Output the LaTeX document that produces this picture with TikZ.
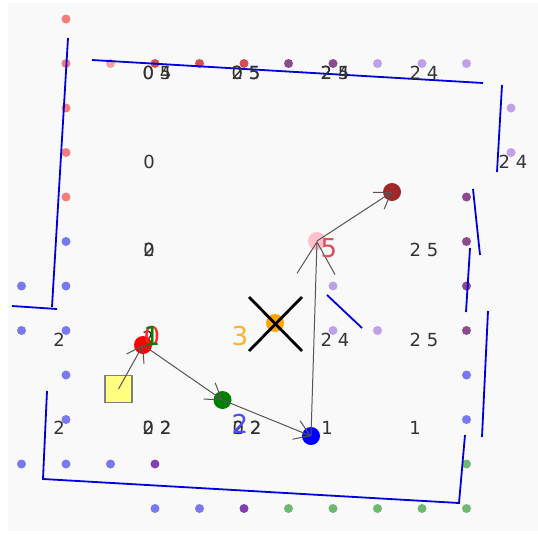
\documentclass[tikz,border=0pt]{standalone}
\usepackage{fontspec}
\setmainfont{DejaVu Sans}
\usetikzlibrary{arrows.meta}
\definecolor{bgc}{HTML}{F9F9F9}
\definecolor{dred}{HTML}{F47C7C}
\definecolor{dpink}{HTML}{F4A4A4}
\definecolor{dmaroon}{HTML}{D45050}
\definecolor{dpurp}{HTML}{8E4A8E}
\definecolor{dlilac}{HTML}{C0A0E6}
\definecolor{dblue}{HTML}{7878F0}
\definecolor{dviol}{HTML}{8040B0}
\definecolor{dgreen}{HTML}{70B870}
\definecolor{wallc}{HTML}{0000DD}
\definecolor{arrc}{HTML}{555555}
\definecolor{agpink}{HTML}{FFC0CB}
\definecolor{agbrown}{HTML}{A02828}
\definecolor{agorange}{HTML}{FFA500}
\definecolor{agfive}{HTML}{D9505A}
\definecolor{sqfill}{HTML}{FFFF80}
\begin{document}
\begin{tikzpicture}[x=1pt,y=-1pt,
  wall/.style={draw=wallc,line width=1.8pt},
  agent/.style={circle,minimum size=18pt,inner sep=0pt,draw=none},
  conn/.style={draw=arrc,line width=1pt,-{Straight Barb[length=15pt,width=20pt]}},
  bigconn/.style={draw=arrc,line width=1pt,-{Straight Barb[length=32pt,width=38pt]}},
  lab/.style={inner sep=0pt,text=black!80,font=\fontsize{18}{20}\selectfont},
  biglab/.style={inner sep=0pt,font=\fontsize{26}{28}\selectfont},
  xmark/.style={draw=black,line width=2.8pt}]
\useasboundingbox (0,0) rectangle (538,533);
\fill[white] (0,0) rectangle (538,533);
\fill[bgc] (8,3) rectangle (538,531);
% dots
\foreach \x/\y/\c in {
 66/19/dred, 66/63.5/dred, 66/108/dred, 66/152.5/dred, 66/197/dred,
 110.5/63.5/dpink, 155/63.5/dmaroon, 199.5/63.5/dmaroon, 244/63.5/dmaroon,
 288.5/63.5/dpurp, 333/63.5/dpurp, 377.5/63.5/dlilac, 422/63.5/dlilac, 466.5/63.5/dlilac,
 511/108/dlilac, 511/152.5/dlilac,
 466.5/197/dpurp, 466.5/241.5/dpurp, 466.5/286/dpurp, 466.5/330.5/dpurp,
 466.5/375/dblue, 466.5/419.5/dblue, 466.5/464/dgreen, 466.5/508.5/dgreen,
 288.5/508.5/dgreen, 333/508.5/dgreen, 377.5/508.5/dgreen, 422/508.5/dgreen,
 155/508.5/dblue, 199.5/508.5/dblue, 244/508.5/dviol,
 21.5/464/dblue, 66/464/dblue, 110.5/464/dblue, 155/464/dviol,
 66/241.5/dblue, 21.5/286/dblue, 66/286/dblue, 21.5/330.5/dblue, 66/330.5/dblue,
 66/375/dblue, 66/419.5/dblue,
 333/286/dlilac, 333/330.5/dlilac, 377.5/330.5/dlilac}
 \fill[\c] (\x,\y) circle (4.5);
% walls
\draw[wall] (68,38) -- (52,307);
\draw[wall] (12,306) -- (57,309);
\draw[wall] (92,60) -- (483,83);
\draw[wall] (502,85) -- (497,172);
\draw[wall] (473,189) -- (480,255);
\draw[wall] (470,248) -- (466,312);
\draw[wall] (488,311) -- (482,437);
\draw[wall] (47,391) -- (43,479) -- (459,503) -- (465,435);
\draw[wall] (327,295) -- (362,328);
% black labels
\node[lab] (l1a) at (157,73) {0 5};
\node[lab] (l1b) at (157,73) {0 4};
\node[lab] (l2a) at (246,73) {0 5};
\node[lab] (l2b) at (246,73) {2 5};
\node[lab] (l3a) at (335,73) {2 5};
\node[lab] (l3b) at (335,73) {2 4};
\node[lab] (l4) at (424,73) {2 4};
\node[lab] (l5) at (149,162) {0};
\node[lab] (l6) at (513,162) {2 4};
\node[lab] (l7a) at (149,250) {0};
\node[lab] (l7b) at (149,250) {2};
\node[lab] (l8) at (424,250) {2 5};
\node[lab] (l9) at (59,340) {2};
\node[lab] (l10) at (148,338) {2};
\node[lab] (l11) at (335,340) {2 4};
\node[lab] (l12) at (424,340) {2 5};
\node[lab] (l13) at (59,428) {2};
\node[lab] (l14a) at (157,428) {0 2};
\node[lab] (l14b) at (157,428) {2 2};
\node[lab] (l15a) at (247,428) {0 2};
\node[lab] (l15b) at (247,428) {2 2};
\node[lab] (l16) at (327,428) {1};
\node[lab] (l17) at (415,428) {1};
% start square
\node[draw=black!50,fill=sqfill,line width=1.3pt,minimum size=27pt,inner sep=0pt] (sq) at (118.5,389) {};
% agents
\node[agent,fill=red] (a0) at (143,345) {};
\node[agent,fill=green!50!black] (a1) at (222.5,400) {};
\node[agent,fill=blue] (a2) at (311,436) {};
\node[agent,fill=agpink] (a5) at (317,241) {};
\node[agent,fill=agbrown] (a4) at (392,192) {};
\node[agent,fill=agorange] (a3) at (275,323) {};
% connectors
\draw[conn] (sq.center) -- (a0.center);
\draw[conn] (a0.center) -- (a1.center);
\draw[conn] (a1.center) -- (a2.center);
\draw[bigconn] (a2.center) -- (a5.center);
\draw[conn] (a5.center) -- (a4.center);
% X mark
\coordinate (x1) at (249,297);
\coordinate (x2) at (302,351);
\coordinate (x3) at (302,297);
\coordinate (x4) at (249,351);
\draw[xmark] (x1) -- (x2);
\draw[xmark] (x3) -- (x4);
% coloured labels
\node[biglab,text=red!85] (c0) at (152,336) {0};
\node[biglab,text=green!50!black] (c1) at (152,336) {1};
\node[biglab,text=agorange!85] (c3) at (240,336) {3};
\node[biglab,text=blue!70] (c2) at (240,424) {2};
\node[biglab,text=agfive] (c5) at (329,248) {5};
\end{tikzpicture}
\end{document}
